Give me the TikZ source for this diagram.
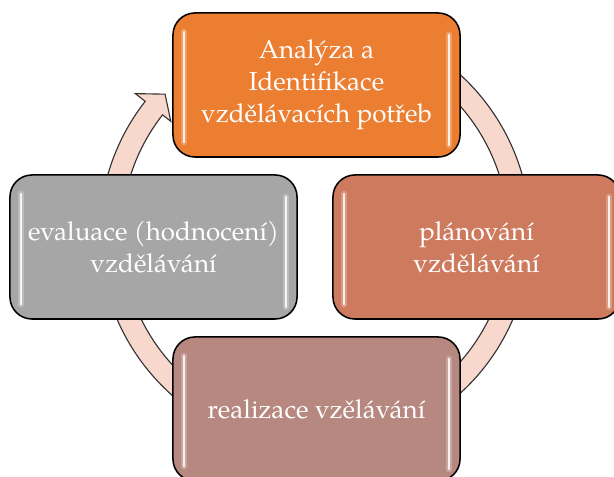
\documentclass[tikz,border=0pt]{standalone}
\usepackage{fontspec}
\setmainfont{TeX Gyre Pagella}
\definecolor{oranz}{RGB}{236,126,50}
\definecolor{cihla}{RGB}{206,122,94}
\definecolor{hneda}{RGB}{182,136,128}
\definecolor{seda}{RGB}{166,166,166}
\definecolor{ruzova}{RGB}{248,215,204}
\tikzset{
	phase/.style={draw=black,line width=1.1pt,rounded corners=0.55cm,
		minimum width=7.175cm,minimum height=3.6cm,
		text=white,align=center,font=\fontsize{18.5}{22.6}\selectfont},
	glow/.style={white,line cap=round,line width=4.5pt,opacity=.25},
	gloss/.style={white,line cap=round,line width=1.3pt,opacity=.85},
	ring/.style={fill=ruzova,draw=black!80,line width=0.8pt}
}
\begin{document}
\begin{tikzpicture}[x=0.025cm,y=0.025cm]
	\useasboundingbox (0,0) rectangle (614,477);

	% cyklicka sipka za bloky
	\begin{scope}[shift={(315,243)}]
		\filldraw[ring]
			(70:215.5) arc[start angle=70,end angle=-218,radius=215.5]
			-- (-218:228) -- (-223:205) -- (-218:183) -- (-218:193.5)
			arc[start angle=-218,end angle=70,radius=193.5] -- cycle;
	\end{scope}

	\node[phase,fill=oranz] (anal) at (316.5,392) {Analýza a\\Identifikace\\vzdělávacích potřeb};
	\node[phase,fill=cihla] (plan) at (476.5,230) {plánování\\vzdělávání};
	\node[phase,fill=hneda] (real) at (316.5,68) {realizace vzělávání};
	\node[phase,fill=seda] (eval) at (153.5,230) {evaluace (hodnocení)\\vzdělávání};

	% lesk na bocich bloku
	\foreach \n in {anal,plan,real,eval}{
		\draw[glow] ([xshift=8.5pt,yshift=-14pt]\n.north west) -- ([xshift=8.5pt,yshift=11pt]\n.south west);
		\draw[glow] ([xshift=-8.5pt,yshift=-16pt]\n.north east) -- ([xshift=-8.5pt,yshift=9pt]\n.south east);
		\draw[gloss] ([xshift=8.5pt,yshift=-14pt]\n.north west) -- ([xshift=8.5pt,yshift=11pt]\n.south west);
		\draw[gloss] ([xshift=-8.5pt,yshift=-16pt]\n.north east) -- ([xshift=-8.5pt,yshift=9pt]\n.south east);
	}
\end{tikzpicture}
\end{document}
